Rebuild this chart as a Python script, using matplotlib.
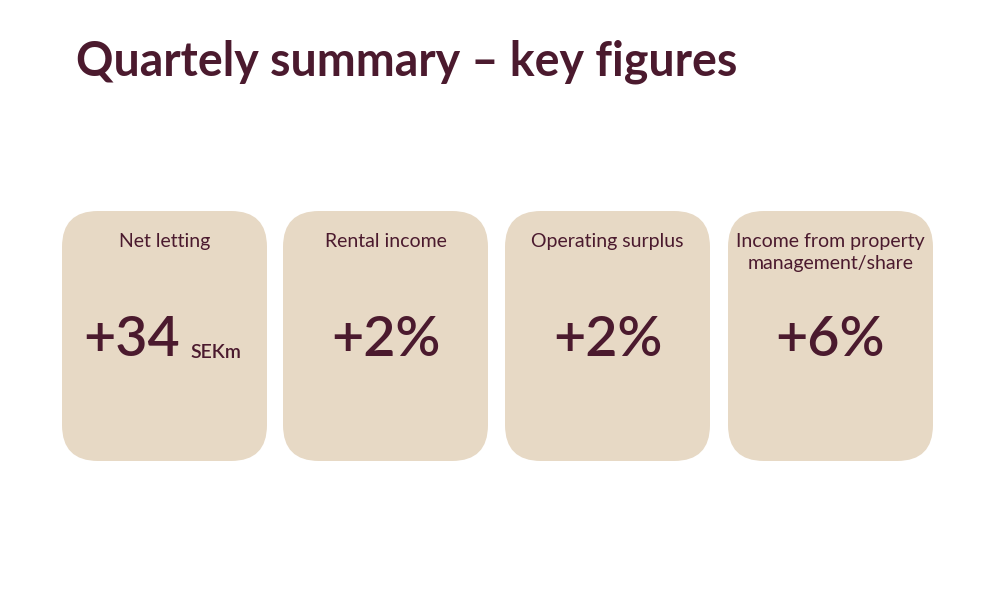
import matplotlib
matplotlib.use("Agg")
import matplotlib.pyplot as plt
from matplotlib.patches import FancyBboxPatch

title = "Quartely summary – key figures"
labels = ["Net letting", "Rental income", "Operating surplus", "Income from property\nmanagement/share"]
values = ["+34", "+2%", "+2%", "+6%"]
units = ["SEKm", "", "", ""]

dark = "#4B1A2E"
card = "#E7D9C5"
font = "Lato"

fig = plt.figure(figsize=(10, 6), dpi=100)
ax = fig.add_axes([0, 0, 1, 1])
ax.set_xlim(0, 1000); ax.set_ylim(600, 0); ax.axis("off")

ax.text(76, 62, title, fontsize=33.5, color=dark, family=font, weight="bold", va="center", ha="left")

lefts = [62, 283, 505, 728]
w, h, top = 205, 250, 211
r = 36
for i, (lab, val, un) in enumerate(zip(labels, values, units)):
    x = lefts[i]
    ax.add_patch(FancyBboxPatch((x + r, top + r), w - 2 * r, h - 2 * r,
                                boxstyle=f"round,pad={r}", fc=card, ec="none"))
    cx = x + w / 2
    ax.text(cx, 233, lab, fontsize=14, color=dark, family=font, ha="center", va="top", linespacing=1.35)
    if un:
        ax.text(x + 118, 340, val, fontsize=40, color=dark, family=font, weight="semibold", ha="right", va="center")
        ax.text(x + 128, 352, un, fontsize=14, color=dark, family=font, weight="semibold", ha="left", va="center")
    else:
        ax.text(cx, 340, val, fontsize=40, color=dark, family=font, weight="semibold", ha="center", va="center")

fig.savefig("out.png", dpi=100)
